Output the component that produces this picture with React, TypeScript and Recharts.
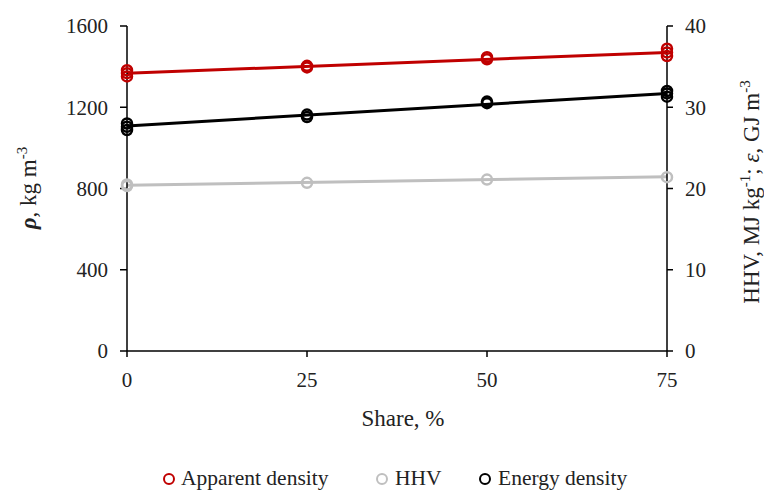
import React from "react";
import { ComposedChart, XAxis, YAxis, Scatter, Line, Label } from "recharts";

const shares = [0, 25, 50, 75];
const leftTicks = [0, 400, 800, 1200, 1600];
const rightTicks = [0, 10, 20, 30, 40];

// replicate measurements per share
const apparentDensity = [[1352, 1368, 1382], [1396, 1404], [1436, 1446], [1452, 1470, 1488]];
const hhv = [[20.3, 20.5], [20.7], [21.1], [21.4]];
const energyDensity = [[27.2, 27.6, 28.0], [28.8, 29.1], [30.5, 30.7], [31.3, 31.7, 32.0]];

// linear trend endpoints (share 0 and 75)
const trendX = [0, 75];
const densityTrend = [1367, 1470];
const hhvTrend = [20.4, 21.45];
const energyTrend = [27.7, 31.7];

const RED = "#C00000";
const GRAY = "#BFBFBF";
const BLACK = "#000000";
const FONT = "'Liberation Serif', 'DejaVu Serif', serif";

const toPoints = (reps: number[][]) =>
  reps.flatMap((vals, i) => vals.map((v) => ({ x: shares[i], y: v })));
const toTrend = (vals: number[]) => vals.map((v, i) => ({ x: trendX[i], y: v }));

const ring = (color: string) => (props: any) =>
  props.cx == null ? <g /> : (
    <circle cx={props.cx} cy={props.cy} r={5} fill="none" stroke={color} strokeWidth={2.5} />
  );

const tickStyle = { fill: "#222", fontSize: 21, fontFamily: FONT };

export default function App() {
  return (
    <div style={{ position: "absolute", left: 0, top: 0, width: 764, height: 490, background: "#fff" }}>
      <ComposedChart
        width={764}
        height={490}
        margin={{ top: 26, right: 0, left: 0, bottom: 109 }}
        style={{ fontFamily: FONT }}
      >
        <XAxis
          type="number"
          dataKey="x"
          domain={[0, 75]}
          ticks={shares}
          height={30}
          axisLine={{ stroke: "#000", strokeWidth: 1.5 }}
          tickLine={{ stroke: "#000", strokeWidth: 1.5 }}
          tickSize={6}
          tickMargin={15}
          tick={tickStyle}
          allowDuplicatedCategory={false}
        >
          <Label
            content={() => (
              <text x={403} y={426} textAnchor="middle" fontSize={23} fill="#222" fontFamily={FONT}>
                Share, %
              </text>
            )}
          />
        </XAxis>
        <YAxis
          yAxisId="left"
          orientation="left"
          width={127}
          domain={[0, 1600]}
          ticks={leftTicks}
          axisLine={{ stroke: "#000", strokeWidth: 1.5 }}
          tickLine={{ stroke: "#000", strokeWidth: 1.5 }}
          tickSize={7}
          tickMargin={12}
          tick={tickStyle}
        >
          <Label
            content={() => (
              <text
                x={36}
                y={188}
                transform="rotate(-90, 36, 188)"
                textAnchor="middle"
                fontSize={23}
                fill="#222"
                fontFamily={FONT}
              >
                <tspan fontStyle="italic" fontWeight="bold">ρ</tspan>
                <tspan>, kg m</tspan>
                <tspan dy={-9} fontSize={15}>-3</tspan>
              </text>
            )}
          />
        </YAxis>
        <YAxis
          yAxisId="right"
          orientation="right"
          width={97}
          domain={[0, 40]}
          ticks={rightTicks}
          axisLine={{ stroke: "#000", strokeWidth: 1.5 }}
          tickLine={{ stroke: "#000", strokeWidth: 1.5 }}
          tickSize={6}
          tickMargin={12}
          tick={tickStyle}
        >
          <Label
            content={() => (
              <text
                x={759}
                y={192}
                transform="rotate(-90, 759, 192)"
                textAnchor="middle"
                fontSize={23}
                fill="#222"
                fontFamily={FONT}
              >
                <tspan>HHV, MJ kg</tspan>
                <tspan dy={-9} fontSize={15}>-1</tspan>
                <tspan dy={9}>; </tspan>
                <tspan fontStyle="italic">ε</tspan>
                <tspan>, GJ m</tspan>
                <tspan dy={-9} fontSize={15}>-3</tspan>
              </text>
            )}
          />
        </YAxis>

        <Line
          yAxisId="left"
          data={toTrend(densityTrend)}
          dataKey="y"
          stroke={RED}
          strokeWidth={3}
          dot={false}
          isAnimationActive={false}
        />
        <Line
          yAxisId="right"
          data={toTrend(hhvTrend)}
          dataKey="y"
          stroke={GRAY}
          strokeWidth={3}
          dot={false}
          isAnimationActive={false}
        />
        <Line
          yAxisId="right"
          data={toTrend(energyTrend)}
          dataKey="y"
          stroke={BLACK}
          strokeWidth={3}
          dot={false}
          isAnimationActive={false}
        />
        <Scatter
          yAxisId="left"
          data={toPoints(apparentDensity)}
          dataKey="y"
          shape={ring(RED)}
          isAnimationActive={false}
        />
        <Scatter
          yAxisId="right"
          data={toPoints(hhv)}
          dataKey="y"
          shape={ring(GRAY)}
          isAnimationActive={false}
        />
        <Scatter
          yAxisId="right"
          data={toPoints(energyDensity)}
          dataKey="y"
          shape={ring(BLACK)}
          isAnimationActive={false}
        />
      </ComposedChart>
      <svg
        width={764}
        height={490}
        style={{ position: "absolute", left: 0, top: 0, pointerEvents: "none" }}
      >
        <g fontFamily={FONT} fontSize={21.5} fill="#222">
          <circle cx={169} cy={479} r={5} fill="none" stroke={RED} strokeWidth={2} />
          <text x={181} y={484.5}>Apparent density</text>
          <circle cx={382} cy={479} r={5} fill="none" stroke={GRAY} strokeWidth={2} />
          <text x={395} y={484.5}>HHV</text>
          <circle cx={485} cy={479} r={5} fill="none" stroke={BLACK} strokeWidth={2} />
          <text x={498} y={484.5}>Energy density</text>
        </g>
      </svg>
    </div>
  );
}
